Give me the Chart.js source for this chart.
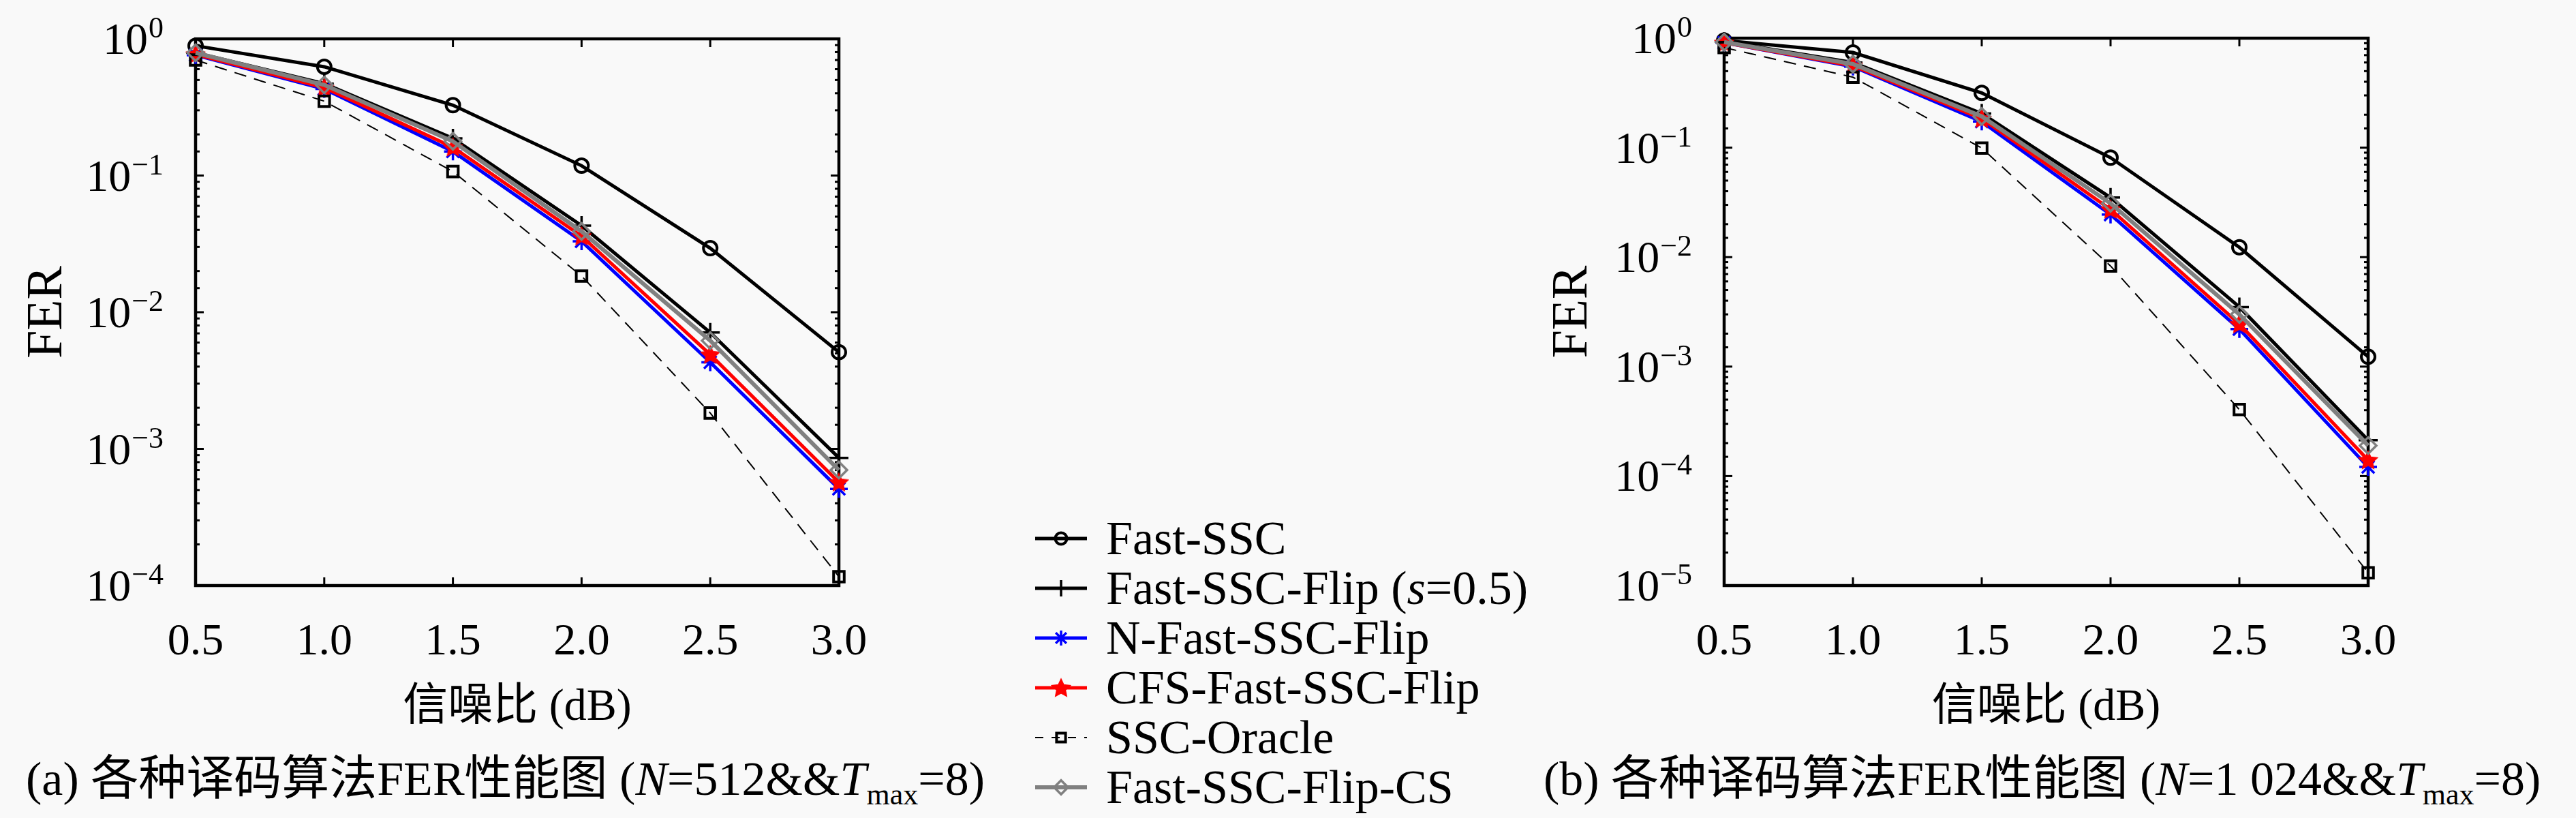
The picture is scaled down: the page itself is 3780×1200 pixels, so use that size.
<!DOCTYPE html>
<html>
<head>
<meta charset="utf-8">
<script src="https://cdn.jsdelivr.net/npm/chart.js@4.4.0/dist/chart.umd.min.js"></script>
<style>
  body { margin: 0; width: 3780px; height: 1200px; background: #f9f9f9; position: relative; overflow: hidden;
         font-family: "Liberation Serif", "Noto Sans CJK SC", serif; color: #000; }
  .plot { position: absolute; top: 0; }
  #legend { position: absolute; left: 1512px; top: 753px; }
  .row { height: 73px; display: flex; align-items: center; font-size: 70px; white-space: nowrap; }
  .row canvas { width: 90px; height: 40px; margin-right: 21px; }
  .caption { position: absolute; top: 1106px; font-size: 70px; line-height: 74px; white-space: nowrap; }
  .caption sub { font-size: 44px; vertical-align: -14px; }
</style>
</head>
<body>
<canvas id="plot512" class="plot" style="left:0px" width="1500" height="1082"></canvas>
<canvas id="plot1024" class="plot" style="left:2200px" width="1580" height="1082"></canvas>
<div id="legend"></div>
<div class="caption" style="left:38px">(a) 各种译码算法FER性能图 (<i>N</i>=512&amp;&amp;<i>T</i><sub>max</sub>=8)</div>
<div class="caption" style="left:2265px">(b) 各种译码算法FER性能图 (<i>N</i>=1 024&amp;&amp;<i>T</i><sub>max</sub>=8)</div>
<script>
// x values (dB)
const snr = [0.5, 1.0, 1.5, 2.0, 2.5, 3.0];
const seriesNames = ['Fast-SSC', 'Fast-SSC-Flip (s=0.5)', 'N-Fast-SSC-Flip', 'CFS-Fast-SSC-Flip', 'SSC-Oracle', 'Fast-SSC-Flip-CS'];

// (a) N=512
const fastSSC512  = [0.89, 0.625, 0.327, 0.118, 0.0294, 0.0051];
const flip512     = [0.79, 0.47, 0.187, 0.043, 0.0071, 0.00086];
const nFlip512    = [0.76, 0.43, 0.150, 0.033, 0.0043, 0.00051];
const cfsFlip512  = [0.77, 0.44, 0.161, 0.036, 0.0049, 0.00057];
const oracle512   = [0.70, 0.35, 0.107, 0.0184, 0.00183, 0.000116];
const flipCS512   = [0.79, 0.46, 0.178, 0.039, 0.0062, 0.0007];

// (b) N=1024
const fastSSC1024 = [0.95, 0.74, 0.316, 0.081, 0.0123, 0.00123];
const flip1024    = [0.93, 0.60, 0.205, 0.035, 0.0035, 0.000213];
const nFlip1024   = [0.91, 0.55, 0.173, 0.0245, 0.0022, 0.000121];
const cfsFlip1024 = [0.91, 0.56, 0.184, 0.0273, 0.00245, 0.00014];
const oracle1024  = [0.82, 0.44, 0.099, 0.0083, 0.000405, 0.0000131];
const flipCS1024  = [0.92, 0.58, 0.193, 0.031, 0.0030, 0.00019];

const SERIF = '"Liberation Serif", "Noto Sans CJK SC", serif';

function makeStar(size, color) {
  const c = document.createElement('canvas');
  c.width = c.height = size;
  const g = c.getContext('2d');
  const r = size / 2, ri = r * 0.45;
  g.beginPath();
  for (let k = 0; k < 10; k++) {
    const ang = -Math.PI / 2 + k * Math.PI / 5;
    const rr = k % 2 ? ri : r - 1;
    g.lineTo(r + rr * Math.cos(ang), r + 1 + rr * Math.sin(ang));
  }
  g.closePath();
  g.fillStyle = color; g.fill();
  g.strokeStyle = color; g.lineWidth = 1.5; g.stroke();
  return c;
}
const redStar = makeStar(30, '#ff0000');

const STYLES = [
  {color: '#000000', width: 5, dash: [],       point: 'circle',  radius: 10, pw: 4},
  {color: '#000000', width: 5, dash: [],       point: 'cross',   radius: 14, pw: 3.5},
  {color: '#0000ff', width: 5, dash: [],       point: 'star',    radius: 13, pw: 3.5},
  {color: '#ff0000', width: 5, dash: [],       point: redStar,   radius: 12, pw: 3},
  {color: '#000000', width: 2, dash: [18, 12], point: 'rect',    radius: 11, pw: 4},
  {color: '#808080', width: 6, dash: [],       point: 'rectRot', radius: 12, pw: 3.5},
];

function isPow10(v) {
  const l = Math.log10(v);
  return Math.abs(l - Math.round(l)) < 1e-9;
}

const frameTicks = {
  id: 'frameTicks',
  beforeDatasetsDraw(chart) {
    const {ctx, chartArea: a, scales: {x, y}} = chart;
    ctx.save();
    ctx.strokeStyle = '#000';
    ctx.lineWidth = 3;
    const seg = (x1, y1, x2, y2) => { ctx.beginPath(); ctx.moveTo(x1, y1); ctx.lineTo(x2, y2); ctx.stroke(); };
    x.ticks.forEach(t => {
      const px = x.getPixelForValue(t.value);
      seg(px, a.bottom, px, a.bottom - 12);
      seg(px, a.top, px, a.top + 12);
    });
    y.ticks.forEach(t => {
      const py = y.getPixelForValue(t.value);
      const len = isPow10(t.value) ? 12 : 6;
      seg(a.left, py, a.left + len, py);
      seg(a.right, py, a.right - len, py);
    });
    ctx.lineWidth = 4.5;
    ctx.strokeRect(a.left, a.top, a.right - a.left, a.bottom - a.top);
    ctx.restore();
  },
  afterDraw(chart) {
    // y labels as 10^n
    const {ctx, chartArea: a, scales: {y}} = chart;
    ctx.save();
    ctx.fillStyle = '#000';
    ctx.textAlign = 'right';
    ctx.textBaseline = 'alphabetic';
    y.ticks.forEach(t => {
      if (!isPow10(t.value)) return;
      const py = y.getPixelForValue(t.value);
      const n = Math.round(Math.log10(t.value));
      const exp = n < 0 ? '\u2212' + (-n) : String(n);
      const xe = a.left - 47;
      ctx.font = '44px ' + SERIF;
      const w = ctx.measureText(exp).width;
      ctx.fillText(exp, xe, py - 2);
      ctx.font = '66px ' + SERIF;
      ctx.fillText('10', xe - w - 1, py + 22);
    });
    ctx.restore();
  }
};

function makeChart(id, values, yMin, yWidth, padTop, padRight, titlePad) {
  const datasets = values.map((vals, i) => {
    const s = STYLES[i];
    return {
      label: seriesNames[i],
      data: snr.map((x, j) => ({x: x, y: vals[j]})),
      borderColor: s.color,
      backgroundColor: 'rgba(0,0,0,0)',
      borderWidth: s.width,
      borderDash: s.dash,
      pointStyle: s.point,
      pointRadius: s.radius,
      pointBorderWidth: s.pw,
      pointBorderColor: s.color,
      pointBackgroundColor: 'rgba(0,0,0,0)',
      tension: 0,
      clip: false,
      order: -i,
    };
  });
  return new Chart(document.getElementById(id), {
    type: 'line',
    data: {datasets: datasets},
    plugins: [frameTicks],
    options: {
      responsive: false,
      animation: false,
      events: [],
      layout: {padding: {top: padTop, right: padRight, left: 0, bottom: 0}},
      plugins: {legend: {display: false}, tooltip: {enabled: false}},
      scales: {
        x: {
          type: 'linear', min: 0.5, max: 3.0,
          grid: {display: false}, border: {display: false},
          ticks: {stepSize: 0.5, padding: 36, color: '#000', font: {family: SERIF, size: 66},
                  callback: v => v.toFixed(1)},
          title: {display: true, text: '信噪比 (dB)', color: '#000', font: {family: SERIF, size: 66}, padding: {top: 4, bottom: 4}},
          afterFit: s => { s.height = 223; }
        },
        y: {
          type: 'logarithmic', min: yMin, max: 1,
          grid: {display: false}, border: {display: false},
          ticks: {display: false},
          title: {display: true, text: 'FER', color: '#000', font: {family: SERIF, size: 74}, padding: {top: titlePad, bottom: 0}},
          afterFit: s => { s.width = yWidth; }
        }
      }
    }
  });
}

makeChart('plot512', [fastSSC512, flip512, nFlip512, cfsFlip512, oracle512, flipCS512], 1e-4, 287, 57, 269, 26);
makeChart('plot1024', [fastSSC1024, flip1024, nFlip1024, cfsFlip1024, oracle1024, flipCS1024], 1e-5, 330, 56, 305, 64);

// legend
const legend = document.getElementById('legend');
seriesNames.forEach((name, i) => {
  const s = STYLES[i];
  const row = document.createElement('div');
  row.className = 'row';
  const cv = document.createElement('canvas');
  cv.width = 90; cv.height = 40;
  const g = cv.getContext('2d');
  g.strokeStyle = s.color;
  g.lineWidth = s.width;
  g.setLineDash(s.dash.length ? [12, 12] : []);
  g.beginPath(); g.moveTo(7, 20); g.lineTo(83, 20); g.stroke();
  g.setLineDash([]);
  g.lineWidth = s.pw;
  g.fillStyle = 'rgba(0,0,0,0)';
  Chart.helpers.drawPoint(g, {pointStyle: s.point, radius: s.radius * 0.85, rotation: 0, borderWidth: s.pw}, 45, 20);
  const span = document.createElement('span');
  span.innerHTML = name.replace('(s=', '(<i>s</i>=');
  row.appendChild(cv);
  row.appendChild(span);
  legend.appendChild(row);
});
</script>
</body>
</html>
